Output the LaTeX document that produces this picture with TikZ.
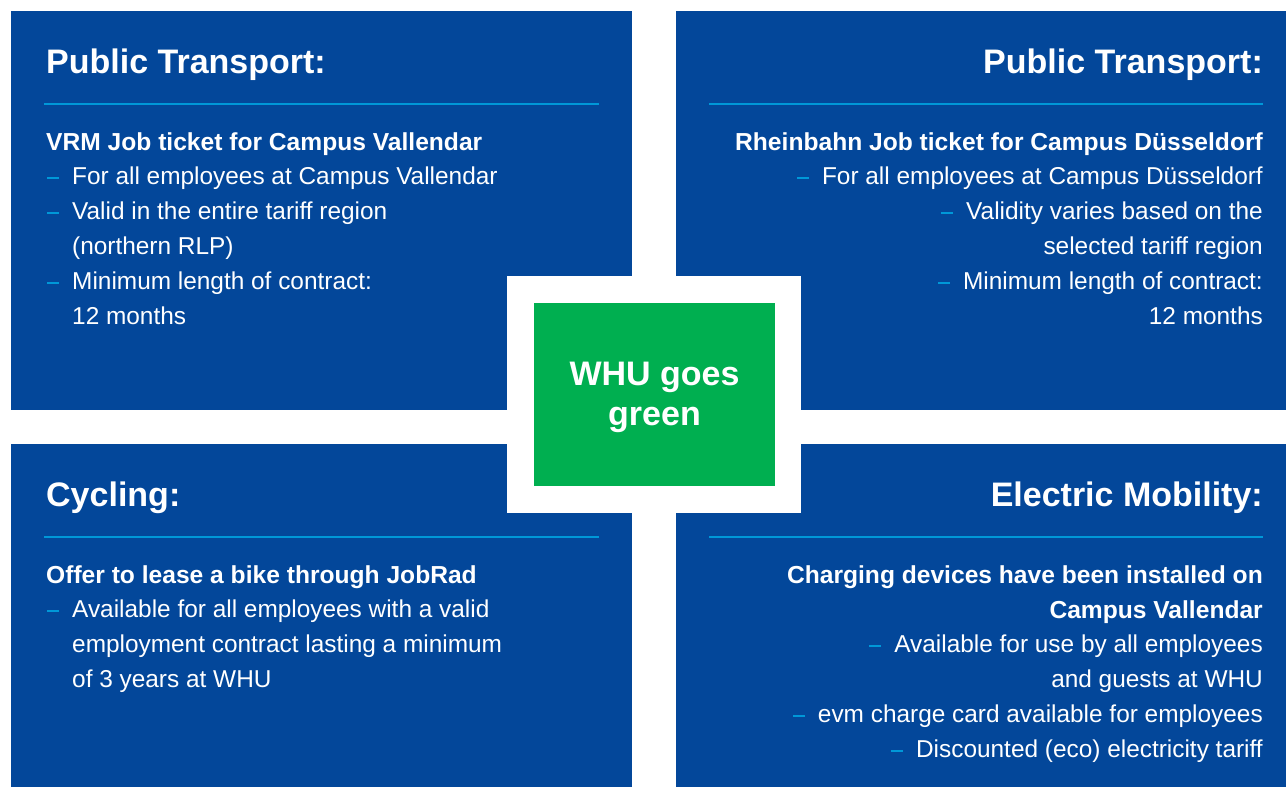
\documentclass[tikz,border=0pt]{standalone}
\usepackage{fontspec}
\setmainfont{Liberation Sans}
\definecolor{whublue}{HTML}{03479A}
\definecolor{whugreen}{HTML}{00AF50}
\definecolor{linecol}{HTML}{0098D8}
\begin{document}
\begin{tikzpicture}[x=1pt,y=-1pt,
  panel/.style={fill=whublue,draw=none,inner sep=0,anchor=north west},
  titletext/.style={inner sep=0,text=white,font=\fontsize{34}{40}\selectfont\bfseries},
  headtext/.style={inner sep=0,text=white,font=\fontsize{24.6}{30}\selectfont\bfseries},
  itemtext/.style={inner sep=0,text=white,font=\fontsize{24.4}{30}\selectfont},
  rulebar/.style={draw=linecol,line width=2.7pt},
  dashmark/.style={draw=linecol,line width=2pt}]
\useasboundingbox (0,0) rectangle (1286,787);
\fill[white] (0,0) rectangle (1286,787);
% panels
\node[panel,minimum width=621pt,minimum height=399pt] (tl) at (11,11) {};
\node[panel,minimum width=610pt,minimum height=399pt] (tr) at (676,11) {};
\node[panel,minimum width=621pt,minimum height=343pt] (bl) at (11,444) {};
\node[panel,minimum width=610pt,minimum height=343pt] (br) at (676,444) {};
% centre
\node[fill=white,inner sep=0,minimum width=294pt,minimum height=237pt] (frame) at (654,394.5) {};
\node[fill=whugreen,inner sep=0,minimum width=241pt,minimum height=183pt] (centre) at (654.5,394.5) {};
\node[inner sep=0,text=white,align=center,font=\fontsize{34}{40}\selectfont\bfseries]
      (centretext) at ([yshift=-3pt]centre.center) {WHU goes\\green};
% rules
\draw[rulebar] (44,104) -- (599,104);
\draw[rulebar] (709,104) -- (1263,104);
\draw[rulebar] (44,537) -- (599,537);
\draw[rulebar] (709,537) -- (1263,537);
% top left
\node[titletext,anchor=base west] (tlt) at (46,73) {Public Transport:};
\node[headtext,anchor=base west] (tlh) at (46,150) {VRM Job ticket for Campus Vallendar};
\node[itemtext,anchor=base west] (tl1) at (72,184) {For all employees at Campus Vallendar};
\node[itemtext,anchor=base west] (tl2) at (72,219) {Valid in the entire tariff region};
\node[itemtext,anchor=base west] (tl3) at (72,254) {(northern RLP)};
\node[itemtext,anchor=base west] (tl4) at (72,289) {Minimum length of contract:};
\node[itemtext,anchor=base west] (tl5) at (72,324) {12 months};
\foreach \n in {tl1,tl2,tl4}
  \draw[dashmark] ([xshift=-13pt,yshift=6pt]\n.base west) -- ++(-12,0);
% top right
\node[titletext,anchor=base east] (trt) at (1263,73) {Public Transport:};
\node[headtext,anchor=base east] (trh) at (1263,150) {Rheinbahn Job ticket for Campus Düsseldorf};
\node[itemtext,anchor=base east] (tr1) at (1263,184) {For all employees at Campus Düsseldorf};
\node[itemtext,anchor=base east] (tr2) at (1263,219) {Validity varies based on the};
\node[itemtext,anchor=base east] (tr3) at (1263,254) {selected tariff region};
\node[itemtext,anchor=base east] (tr4) at (1263,289) {Minimum length of contract:};
\node[itemtext,anchor=base east] (tr5) at (1263,324) {12 months};
\foreach \n in {tr1,tr2,tr4}
  \draw[dashmark] ([xshift=-13pt,yshift=6pt]\n.base west) -- ++(-12,0);
% bottom left
\node[titletext,anchor=base west] (blt) at (46,506) {Cycling:};
\node[headtext,anchor=base west] (blh) at (46,583) {Offer to lease a bike through JobRad};
\node[itemtext,anchor=base west] (bl1) at (72,617) {Available for all employees with a valid};
\node[itemtext,anchor=base west] (bl2) at (72,652) {employment contract lasting a minimum};
\node[itemtext,anchor=base west] (bl3) at (72,687) {of 3 years at WHU};
\draw[dashmark] ([xshift=-13pt,yshift=6pt]bl1.base west) -- ++(-12,0);
% bottom right
\node[titletext,anchor=base east] (brt) at (1263,506) {Electric Mobility:};
\node[headtext,anchor=base east] (brh1) at (1263,583) {Charging devices have been installed on};
\node[headtext,anchor=base east] (brh2) at (1263,618) {Campus Vallendar};
\node[itemtext,anchor=base east] (br1) at (1263,652) {Available for use by all employees};
\node[itemtext,anchor=base east] (br2) at (1263,687) {and guests at WHU};
\node[itemtext,anchor=base east] (br3) at (1263,722) {evm charge card available for employees};
\node[itemtext,anchor=base east] (br4) at (1263,757) {Discounted (eco) electricity tariff};
\foreach \n in {br1,br3,br4}
  \draw[dashmark] ([xshift=-13pt,yshift=6pt]\n.base west) -- ++(-12,0);
\end{tikzpicture}
\end{document}
